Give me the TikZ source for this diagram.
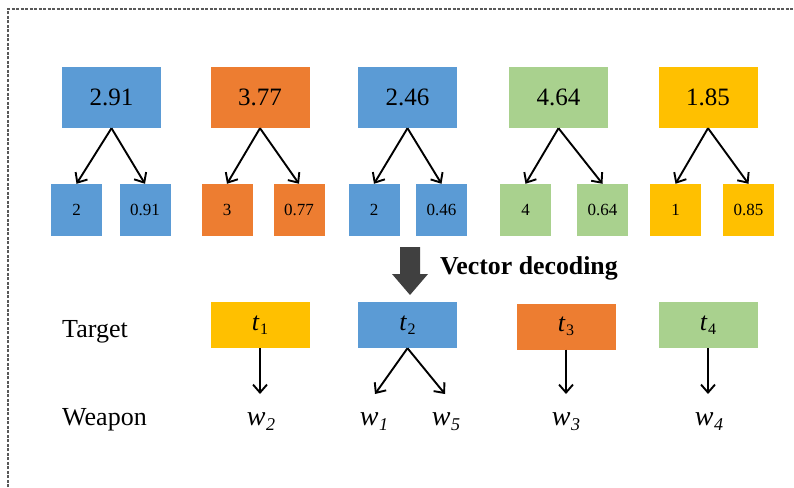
\documentclass[tikz,border=0pt]{standalone}
\usepackage{fontspec}
\setmainfont{Liberation Serif}
\usetikzlibrary{arrows.meta}
\definecolor{cblue}{HTML}{5B9BD5}
\definecolor{corange}{HTML}{ED7D31}
\definecolor{cgreen}{HTML}{A9D18E}
\definecolor{cyellow}{HTML}{FFC000}
\definecolor{cdark}{HTML}{404040}
\newcommand{\tsub}[1]{\textit{t}\kern0.5pt\raisebox{-4pt}{\fontsize{16}{16}\selectfont #1}}
\newcommand{\wsub}[1]{\textit{w}\kern0.5pt\raisebox{-5pt}{\fontsize{18}{18}\selectfont\itshape #1}}
\begin{document}
\begin{tikzpicture}[x=1pt,y=-1pt,
  bigbox/.style={minimum width=99pt,minimum height=61pt,inner sep=0pt,font=\fontsize{25}{30}\selectfont},
  smallbox/.style={minimum width=51pt,minimum height=52pt,inner sep=0pt,font=\fontsize{17}{20}\selectfont},
  tbox/.style={minimum width=99pt,minimum height=46pt,inner sep=0pt,font=\fontsize{26}{30}\selectfont},
  arr/.style={-{Straight Barb[length=8pt,width=14pt,line width=1.9pt]},line width=1.9pt,black},
  lbl/.style={anchor=base west,inner sep=0pt,font=\fontsize{26}{30}\selectfont},
  wlbl/.style={anchor=base,inner sep=0pt,font=\fontsize{28}{30}\selectfont},
  frame/.style={draw=black!65,line width=1.3pt,dash pattern=on 3pt off 1.5pt}]
\useasboundingbox (0,0) rectangle (794,487);
\draw[frame] (8,487) -- (8,9) -- (794,9);

% top parents
\node[bigbox,fill=cblue]   (p1) at (111.5,97.5) {2.91};
\node[bigbox,fill=corange] (p2) at (260,97.5)   {3.77};
\node[bigbox,fill=cblue]   (p3) at (407.5,97.5) {2.46};
\node[bigbox,fill=cgreen]  (p4) at (558.5,97.5) {4.64};
\node[bigbox,fill=cyellow] (p5) at (708,97.5)   {1.85};

% children
\node[smallbox,fill=cblue]   (c1a) at (76.5,210)  {2};
\node[smallbox,fill=cblue]   (c1b) at (145,210)   {0.91};
\node[smallbox,fill=corange] (c2a) at (227,210)   {3};
\node[smallbox,fill=corange] (c2b) at (299,210)   {0.77};
\node[smallbox,fill=cblue]   (c3a) at (374,210)   {2};
\node[smallbox,fill=cblue]   (c3b) at (441.5,210) {0.46};
\node[smallbox,fill=cgreen]  (c4a) at (525.5,210) {4};
\node[smallbox,fill=cgreen]  (c4b) at (602.5,210) {0.64};
\node[smallbox,fill=cyellow] (c5a) at (675.5,210) {1};
\node[smallbox,fill=cyellow] (c5b) at (748.5,210) {0.85};

\foreach \i in {1,...,5}{
  \draw[arr] (p\i.south) -- (c\i a.north);
  \draw[arr] (p\i.south) -- (c\i b.north);
}

% big decoding arrow
\fill[cdark] (400,247) -- (420,247) -- (420,274) -- (428,274) -- (410,295) -- (392,274) -- (400,274) -- cycle;
\node[anchor=west,inner sep=0pt,font=\fontsize{25.8}{30}\selectfont\bfseries] (vd) at (440,268) {Vector decoding};

% labels
\node[lbl] (target) at (62,337) {Target};
\node[lbl] (weapon) at (62,425) {Weapon};

% targets
\node[tbox,fill=cyellow] (t1) at (260,325)   {\tsub{1}};
\node[tbox,fill=cblue]   (t2) at (407.5,325) {\tsub{2}};
\node[tbox,fill=corange] (t3) at (566,326.5) {\tsub{3}};
\node[tbox,fill=cgreen]  (t4) at (708,325)   {\tsub{4}};

% weapons
\node[wlbl] (w2) at (261,425) {\wsub{2}};
\node[wlbl] (w1) at (374,425) {\wsub{1}};
\node[wlbl] (w5) at (446,425) {\wsub{5}};
\node[wlbl] (w3) at (566,425) {\wsub{3}};
\node[wlbl] (w4) at (709,425) {\wsub{4}};

\coordinate (e2) at (260,394);
\coordinate (e1) at (375,394);
\coordinate (e5) at (445,394);
\coordinate (e3) at (566,394);
\coordinate (e4) at (708,394);

\draw[arr] (t1.south) -- (e2);
\draw[arr] (t2.south) -- (e1);
\draw[arr] (t2.south) -- (e5);
\draw[arr] (t3.south) -- (e3);
\draw[arr] (t4.south) -- (e4);
\end{tikzpicture}
\end{document}
